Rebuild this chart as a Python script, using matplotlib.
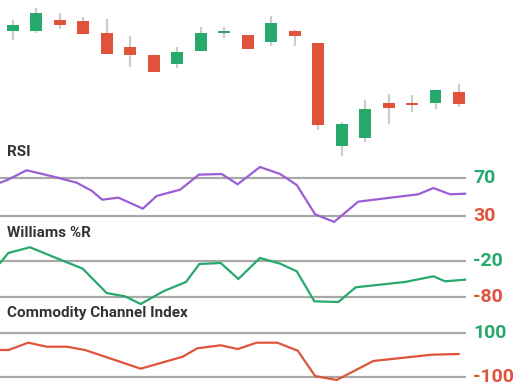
import numpy as np
import matplotlib
matplotlib.use("Agg")
import matplotlib.pyplot as plt

# candle data (arbitrary price units)
opens = [128.7, 129.0, 140.0, 138.7, 126.7, 113.3, 105.0, 95.7, 109.0, 127.3,
         125.0, 118.0, 129.0, 116.7, 14.3, 21.7, 57.3, 57.3, 57.3, 68.0]
closes = [135.3, 147.3, 134.7, 125.7, 105.7, 104.7, 88.3, 108.0, 127.3, 129.0,
          110.7, 136.7, 123.7, 35.0, 35.7, 51.0, 51.7, 55.0, 69.7, 56.3]
highs = [140.0, 152.0, 147.0, 143.0, 141.0, 124.0, 105.0, 113.3, 132.7, 132.7,
         125.0, 144.0, 130.0, 117.3, 38.0, 60.0, 66.0, 65.0, 69.7, 75.7]
lows = [120.0, 127.0, 131.3, 125.7, 105.7, 93.3, 88.3, 92.3, 109.0, 122.3,
        110.7, 114.3, 114.0, 30.0, 4.3, 18.3, 35.7, 48.3, 51.3, 52.7]

# indicator lines (x in candle index units)
rsi_x = [-0.55, -0.24, 0.58, 1.79, 2.71, 3.35, 3.80, 4.49, 5.53, 6.12, 7.12, 7.92,
         8.89, 9.57, 10.52, 11.38, 12.09, 12.87, 13.68, 14.71, 17.27, 17.91, 18.62, 19.26]
rsi_y = [65.3, 68.2, 78.6, 71.4, 65.3, 56.7, 47.1, 49.3, 37.5, 51.1, 57.8, 73.9,
         74.6, 63.6, 82.1, 74.6, 62.8, 31.5, 23.3, 45.0, 52.9, 59.6, 52.9, 53.5]

wr_x = [-0.55, -0.20, 0.72, 1.79, 2.97, 3.99, 4.77, 5.44, 6.40, 7.37, 7.94, 8.85,
        9.60, 10.52, 11.38, 12.09, 12.84, 13.86, 14.60, 16.70, 17.91, 18.41, 19.26]
wr_y = [-23.8, -7.4, 2.0, -14.8, -33.1, -73.0, -78.4, -91.0, -70.2, -54.9, -25.4, -23.8,
        -50.0, -15.6, -24.9, -37.4, -86.6, -87.7, -63.6, -54.9, -45.6, -53.8, -51.1]

cci_x = [-0.55, -0.20, 0.65, 1.44, 2.29, 3.07, 5.44, 7.23, 7.85, 8.85, 9.58, 10.38,
         11.26, 12.13, 12.87, 13.79, 15.35, 17.84, 18.98]
cci_y = [23.0, 23.0, 56.7, 38.2, 38.2, 23.0, -63.1, -7.8, 30.9, 44.7, 27.6, 56.7,
         56.7, 19.8, -96.8, -115.2, -27.6, 1.4, 4.6]

GREEN = "#27a96c"
RED = "#e0533a"
PURPLE = "#9a5fd4"
GRID = "#a8a8a8"
TEXT = "#333333"

W, H = 520, 388
fig = plt.figure(figsize=(W / 100, H / 100), dpi=100)
xlim = (-0.554, 21.6)


def add_axes(top_px, bottom_px, ylim):
    ax = fig.add_axes([0, 1 - bottom_px / H, 1, (bottom_px - top_px) / H])
    ax.set_xlim(xlim)
    ax.set_ylim(ylim)
    ax.axis("off")
    ax.patch.set_alpha(0)
    return ax


# candles
ax_c = add_axes(0, 160, (0, 160))
idx = np.arange(len(opens))
o = np.array(opens)
c = np.array(closes)
cols = [GREEN if cc >= oo else RED for oo, cc in zip(o, c)]
ax_c.vlines(idx, lows, highs, color="#cccccc", lw=1.6, zorder=1)
ax_c.bar(idx, np.maximum(np.abs(c - o), 1.2), bottom=np.minimum(o, c), width=0.51,
         color=cols, zorder=2)

panels = [
    (160, 225, (20.0, 89.6), rsi_x, rsi_y, PURPLE, (70, 30), ("70", "30"), "RSI", 152),
    (240, 310, (-100.8, 13.9), wr_x, wr_y, GREEN, (-20, -80), ("-20", "-80"), "Williams %R", 233),
    (325, 388, (-152, 138.2), cci_x, cci_y, RED, (100, -100), ("100", "-100"), "Commodity Channel Index", 313),
]

for top, bot, ylim, xs, ys, col, levels, labels, title, ty in panels:
    ax = add_axes(top, bot, ylim)
    for lev, lab, lc in zip(levels, labels, (GREEN, RED)):
        ax.hlines(lev, xlim[0], 19.3, color=GRID, lw=1.6, zorder=1)
        ax.text(473 / W, lev, lab, transform=ax.get_yaxis_transform(), color=lc,
                fontsize=14, fontweight="bold", family="Roboto", va="center", ha="left")
    ax.plot(xs, ys, color=col, lw=1.6, zorder=2, solid_joinstyle="miter")
    fig.text(7 / W, 1 - ty / H, title, color=TEXT, fontsize=11, fontweight="bold",
             family="Roboto", va="center", ha="left")

fig.savefig("out.png", dpi=100)
